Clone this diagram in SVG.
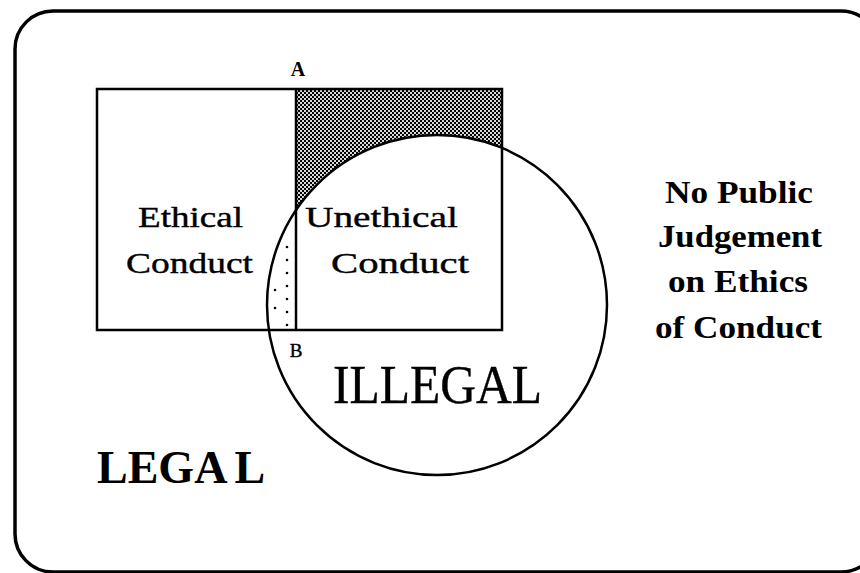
<svg xmlns="http://www.w3.org/2000/svg" width="860" height="573" viewBox="0 0 860 573">
<style>
.ln{fill:none;stroke:#000;stroke-width:2.5}
.t{font-family:"Liberation Serif","DejaVu Serif",serif;fill:#000;stroke:#000;stroke-width:0.4}
.b{font-family:"Liberation Serif","DejaVu Serif",serif;font-weight:bold;fill:#000}
.dot{fill:#000}
</style>
<defs>
<pattern id="hatch" width="4" height="4" patternUnits="userSpaceOnUse">
<rect width="4" height="4" fill="#d8d8d8"/>
<rect x="0" y="0" width="2" height="2" fill="#000"/>
<rect x="2" y="2" width="2" height="2" fill="#000"/>
</pattern>
<clipPath id="leftIn"><rect x="97" y="89" width="199" height="241"/></clipPath>
</defs>
<rect width="860" height="573" fill="#fff"/>
<g id="frame">
<rect x="15" y="11" width="864" height="561" rx="38" ry="38" fill="none" stroke="#000" stroke-width="3.5"/>
</g>
<g id="unethical-zone">
<rect x="296" y="89" width="206" height="241" fill="url(#hatch)"/>
</g>
<g id="illegal">
<circle cx="437" cy="305" r="170" fill="#fff"/>
</g>
<g id="conduct-box">
<rect x="97" y="89" width="405" height="241" class="ln"/>
<line x1="296" y1="89" x2="296" y2="330" class="ln"/>
</g>
<g id="illegal-outline">
<circle cx="437" cy="305" r="170" class="ln" stroke-width="2"/>
</g>
<g id="ethical-illegal-zone" clip-path="url(#leftIn)">
<circle class="dot" cx="287" cy="247" r="1.3"/>
<circle class="dot" cx="287" cy="260" r="1.3"/>
<circle class="dot" cx="287" cy="273" r="1.3"/>
<circle class="dot" cx="287" cy="286" r="1.3"/>
<circle class="dot" cx="287" cy="299" r="1.3"/>
<circle class="dot" cx="287" cy="312" r="1.3"/>
<circle class="dot" cx="287" cy="325" r="1.3"/>
<circle class="dot" cx="275" cy="290" r="1.3"/>
<circle class="dot" cx="275" cy="308" r="1.3"/>
</g>
<g id="connectors"></g>
<g id="labels">
<text class="b" x="298" y="76" font-size="20" text-anchor="middle">A</text>
<text class="t" x="296" y="357" font-size="19" text-anchor="middle">B</text>
<text class="t" x="138" y="227" font-size="30" textLength="105" lengthAdjust="spacingAndGlyphs">Ethical</text>
<text class="t" x="126" y="273" font-size="30" textLength="127" lengthAdjust="spacingAndGlyphs">Conduct</text>
<text class="t" x="305" y="227" font-size="30" textLength="153" lengthAdjust="spacingAndGlyphs">Unethical</text>
<text class="t" x="331" y="273" font-size="30" textLength="138" lengthAdjust="spacingAndGlyphs">Conduct</text>
<text class="t" x="333" y="403" font-size="54" textLength="209" lengthAdjust="spacingAndGlyphs">ILLEGAL</text>
<text class="b" x="97" y="483" font-size="46">LEGA<tspan dx="7">L</tspan></text>
<text class="b" x="665" y="203" font-size="31" textLength="148" lengthAdjust="spacingAndGlyphs">No Public</text>
<text class="b" x="658" y="247" font-size="31" textLength="164" lengthAdjust="spacingAndGlyphs">Judgement</text>
<text class="b" x="668" y="292" font-size="31" textLength="140" lengthAdjust="spacingAndGlyphs">on Ethics</text>
<text class="b" x="655" y="338" font-size="31" textLength="167" lengthAdjust="spacingAndGlyphs">of Conduct</text>
</g>
</svg>
